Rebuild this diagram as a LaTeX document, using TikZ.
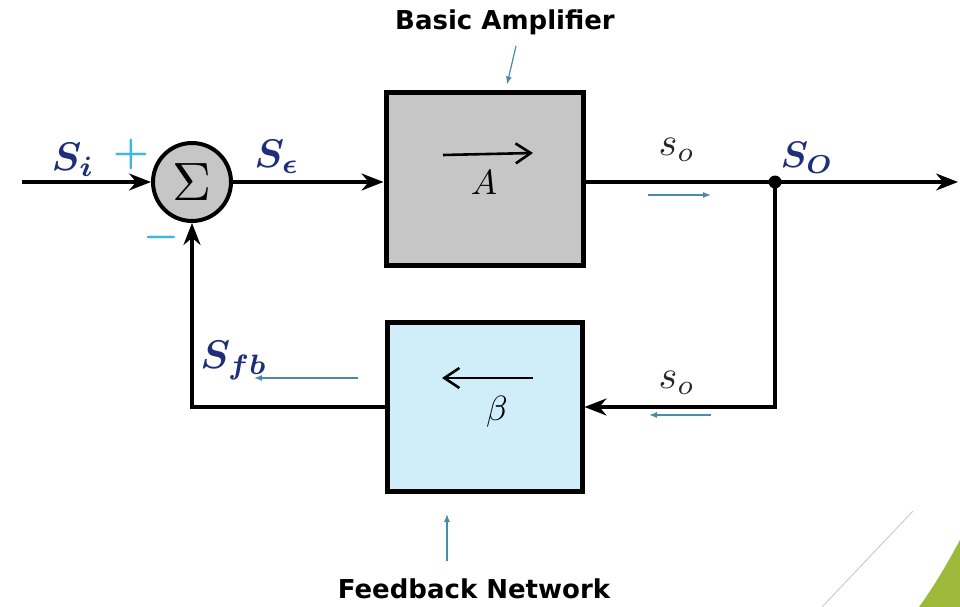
\documentclass[tikz,border=0pt]{standalone}
\usepackage{graphicx}
\usepackage{fontspec}
\setsansfont{DejaVu Sans}
\usetikzlibrary{arrows.meta}
\definecolor{navy}{HTML}{1F2E78}
\definecolor{cyanpm}{HTML}{3DB6E3}
\definecolor{tealar}{HTML}{4A8CA8}
\definecolor{ampgray}{HTML}{C6C6C6}
\definecolor{fbblue}{HTML}{CFEEF9}
\definecolor{slidegreen}{HTML}{9DB93A}
\newcommand{\scmath}[2]{\scalebox{#1}{$#2$}}
\newcommand{\scbmath}[2]{\scalebox{#1}{\boldmath$#2$}}
\tikzset{
  blockbox/.style={draw=black, line width=5pt, inner sep=0pt},
  sumc/.style={circle, draw=black, line width=4pt, fill=ampgray, minimum size=78pt, inner sep=0pt},
  sig/.style={line width=3.2pt, -{Stealth[length=22pt,width=17pt]}},
  inner arrow/.style={line width=2.6pt, -{Straight Barb[length=15pt,width=20pt,line width=2.6pt]}},
  hint/.style={draw=tealar, line width=1.2pt, -{Latex[length=8pt,width=6pt]}},
  biglbl/.style={text=navy},
  smalllbl/.style={text=black!85},
  pm/.style={text=cyanpm},
  title/.style={font=\sffamily\bfseries\fontsize{26}{30}\selectfont}
}
\begin{document}
\begin{tikzpicture}[x=1pt,y=-1pt]
\useasboundingbox (0,0) rectangle (960,607);
% slide decoration
\fill[slidegreen] (919,607) .. controls (935,585) and (948,562) .. (960,540) -- (960,607) -- cycle;
\draw[black!20, line width=1pt] (822,607) -- (913,511);

% blocks
\node[blockbox, fill=ampgray, minimum width=197pt, minimum height=172pt] (amp) at (484.5,179) {};
\node[blockbox, fill=fbblue, minimum width=195pt, minimum height=169pt] (beta) at (484.5,407) {};
\node[sumc] (sum) at (192,182) {\scmath{5.4}{\Sigma}};

% inner arrows and symbols
\coordinate (aL) at (443,155);
\coordinate (aR) at (533,153);
\draw[inner arrow] (aL) -- (aR);
\node (Alab) at (484,183) {\scmath{3.5}{A}};
\coordinate (bR) at (533,378);
\coordinate (bL) at (442,378);
\draw[inner arrow] (bR) -- (bL);
\node (Blab) at (497,412) {\scmath{3.5}{\beta}};

% signal connectors
\coordinate (in) at (22,182);
\coordinate (j) at (775,182);
\coordinate (out) at (958,182);
\draw[sig] (in) -- (sum.west);
\draw[sig] (sum.east) -- (sum.east -| amp.west);
\draw[line width=3.2pt] (amp.east |- j) -- (j);
\draw[sig] (j) -- (out);
\fill (j) circle (6.5pt);
\draw[sig] (j) |- (beta.east);
\draw[sig] (beta.west) -| (sum.south);

% labels
\node[biglbl] (Si) at (73,160) {\scbmath{4.0}{S_i}};
\node[biglbl] (Se) at (277,157) {\scbmath{4.0}{S_\epsilon}};
\node[biglbl] (SO) at (807,158) {\scbmath{3.7}{S_O}};
\node[biglbl] (Sfb) at (234,360) {\scbmath{4.0}{S_{fb}}};
\node[smalllbl] (so1) at (677,150) {\scmath{4.0}{s_o}};
\node[smalllbl] (so2) at (677,383) {\scmath{4.0}{s_o}};
\node[pm] (plus) at (131,154) {\scbmath{4.0}{+}};
\node[pm] (minus) at (161,237) {\scbmath{4.0}{-}};

% direction hints
\coordinate (h1a) at (648,195); \coordinate (h1b) at (711,195);
\draw[hint] (h1a) -- (h1b);
\coordinate (h2a) at (711,415); \coordinate (h2b) at (649,415);
\draw[hint] (h2a) -- (h2b);
\coordinate (h3a) at (358,378); \coordinate (h3b) at (254,378);
\draw[hint] (h3a) -- (h3b);

% titles
\node[title] (tA) at (505,22) {Basic Amplifier};
\node[title] (tB) at (474,589) {Feedback Network};
\coordinate (pA) at (516,46);
\coordinate (pB) at (447,561);
\draw[hint] (pA) -- ([xshift=22.5pt,yshift=6pt]amp.north);
\draw[hint] (pB) -- ([xshift=-37.5pt,yshift=-20pt]beta.south);
\end{tikzpicture}
\end{document}
